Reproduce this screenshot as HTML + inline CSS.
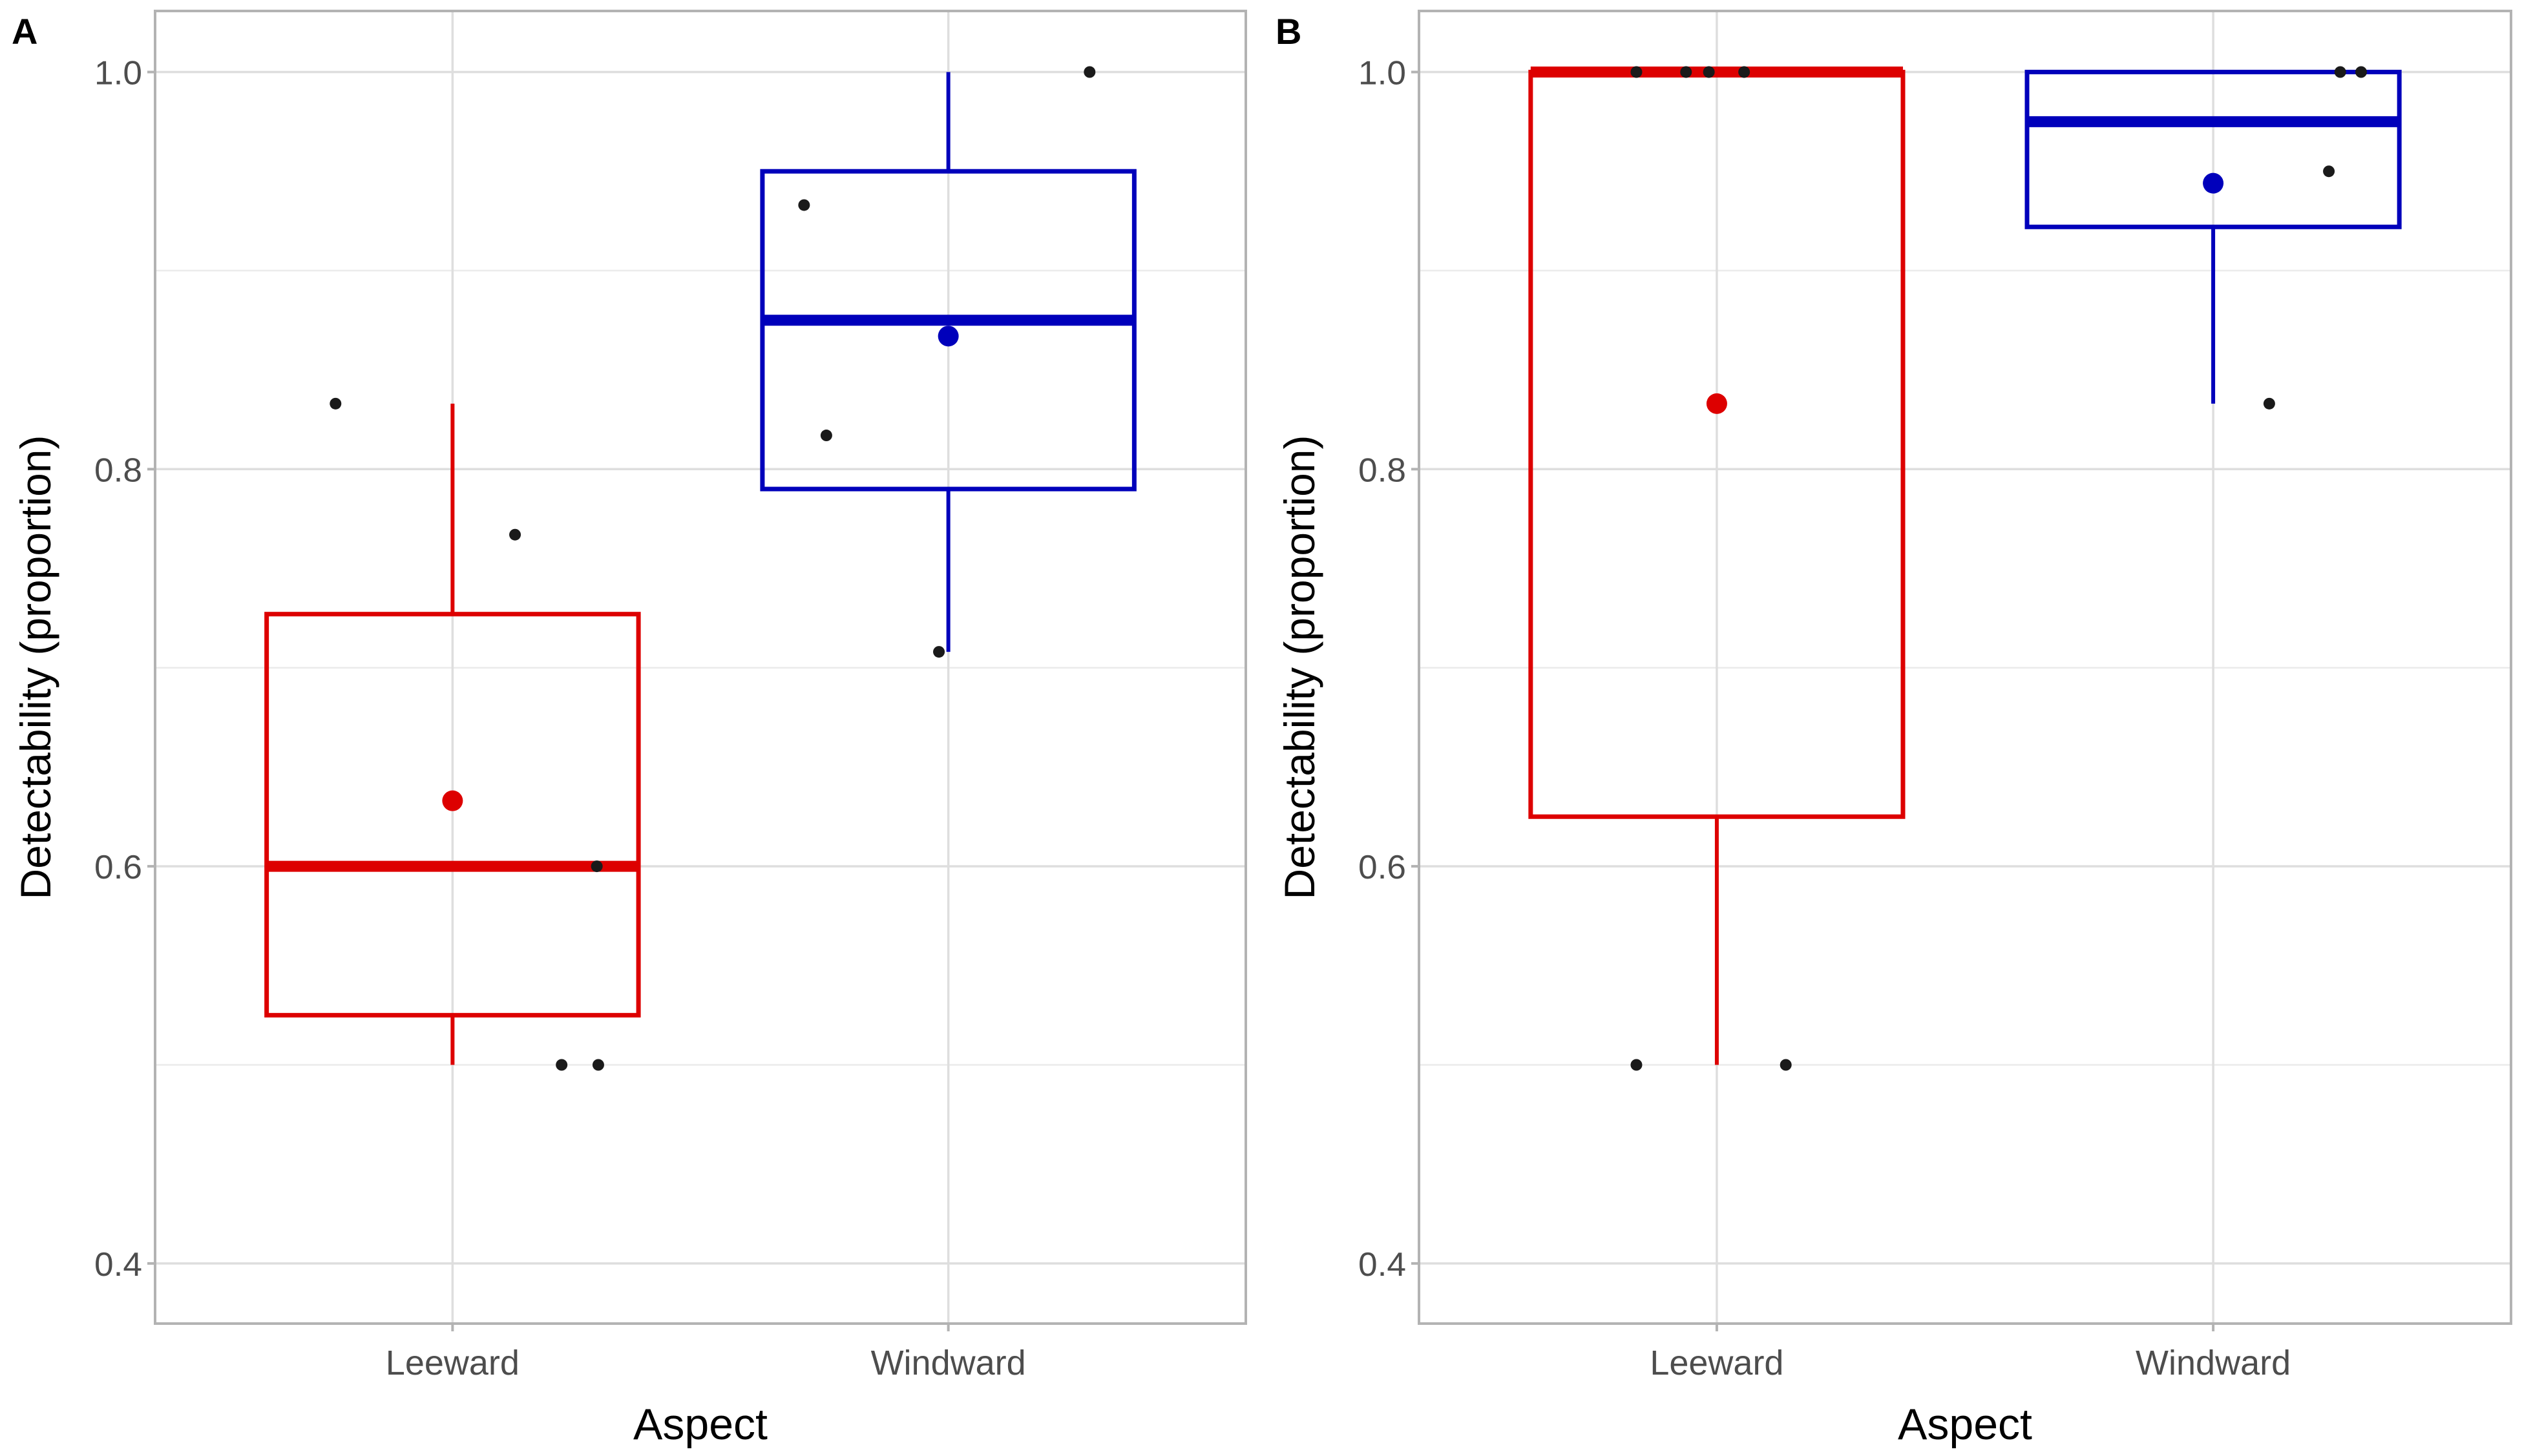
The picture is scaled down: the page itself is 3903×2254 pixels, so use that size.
<!DOCTYPE html>
<html><head><meta charset="utf-8">
<style>html,body{margin:0;padding:0;background:#fff}svg{display:block}</style>
</head><body>
<svg id="chart" width="3903" height="2254" viewBox="0 0 3903 2254" xmlns="http://www.w3.org/2000/svg" font-family="Liberation Sans, sans-serif"></svg>
<script>
const categories = ["Leeward", "Windward"];
const yTicks = [0.4, 0.6, 0.8, 1.0];
const yTickLabels = ["0.4", "0.6", "0.8", "1.0"];
const colors = ["#dd0000", "#0000bb"];
// panel A stats [Leeward, Windward]
const aLower = [0.5, 0.708];
const aQ1 = [0.525, 0.79];
const aMedian = [0.6, 0.875];
const aQ3 = [0.727, 0.95];
const aUpper = [0.833, 1.0];
const aMean = [0.633, 0.867];
const aPtsCat = [0,0,0,0,0,1,1,1,1];
const aPtsJit = [-0.236,0.126,0.291,0.22,0.294,0.285,-0.291,-0.246,-0.019];
const aPtsVal = [0.833,0.767,0.6,0.5,0.5,1.0,0.933,0.817,0.708];
// panel B stats
const bLower = [0.5, 0.833];
const bQ1 = [0.625, 0.922];
const bMedian = [1.0, 0.975];
const bQ3 = [1.0, 1.0];
const bUpper = [1.0, 1.0];
const bMean = [0.833, 0.944];
const bPtsCat = [0,0,0,0,0,0,1,1,1,1];
const bPtsJit = [-0.162,-0.062,-0.016,0.055,-0.162,0.139,0.256,0.298,0.233,0.113];
const bPtsVal = [1.0,1.0,1.0,1.0,0.5,0.5,1.0,1.0,0.95,0.833];

const NS = "http://www.w3.org/2000/svg";
const svg = document.getElementById("chart");
function mk(tag, attrs, parent){const e=document.createElementNS(NS,tag);for(const k in attrs)e.setAttribute(k,attrs[k]);(parent||svg).appendChild(e);return e;}

function panel(label, left, right, st, pts, gname){
  const top=17, bottom=2049;
  const g = mk("g",{});
  
  
  const y = v => 111.5 + (1.0 - v) * 3074;
  const step = (right-left)/2.2;
  const x = i => left + step*(0.6+i);
  [0.5,0.7,0.9].forEach(v=>{const l=mk("line",{x1:left,x2:right,y1:y(v),y2:y(v),stroke:"#ebebeb","stroke-width":2.5},g);
    
    });
  yTicks.forEach((v,i)=>{const l=mk("line",{x1:left,x2:right,y1:y(v),y2:y(v),stroke:"#dedede","stroke-width":3.5},g);
    
    
    mk("line",{x1:left-12,x2:left,y1:y(v),y2:y(v),stroke:"#b3b3b3","stroke-width":4},g);
    const t=mk("text",{x:left-20,y:y(v)+19,"text-anchor":"end","font-size":52,fill:"#4d4d4d",textLength:74,lengthAdjust:"spacingAndGlyphs"},g);
    t.textContent=yTickLabels[i];
    
    });
  categories.forEach((c,i)=>{
    const l=mk("line",{x1:x(i),x2:x(i),y1:top,y2:bottom,stroke:"#dedede","stroke-width":3.5},g);
    
    
    mk("line",{x1:x(i),x2:x(i),y1:bottom,y2:bottom+12,stroke:"#b3b3b3","stroke-width":4},g);
    const t=mk("text",{x:x(i),y:2128,"text-anchor":"middle","font-size":54,fill:"#4d4d4d"},g);
    t.textContent=c;
    
    
  });
  const bw = step*0.75;
  categories.forEach((c,i)=>{
    const col=colors[i];
    const bg=mk("g",{},g);
    
    
    mk("line",{x1:x(i),x2:x(i),y1:y(st.upper[i]),y2:y(st.q3[i]),stroke:col,"stroke-width":6},bg);
    mk("line",{x1:x(i),x2:x(i),y1:y(st.q1[i]),y2:y(st.lower[i]),stroke:col,"stroke-width":6},bg);
    mk("rect",{x:x(i)-bw/2,y:y(st.q3[i]),width:bw,height:y(st.q1[i])-y(st.q3[i]),fill:"none",stroke:col,"stroke-width":7},bg);
    const m=mk("line",{x1:x(i)-bw/2,x2:x(i)+bw/2,y1:y(st.median[i]),y2:y(st.median[i]),stroke:col,"stroke-width":17},bg);
    
    
  });
  pts.cat.forEach((ci,k)=>{
    const p=mk("circle",{cx:x(ci)+pts.jit[k]*step,cy:y(pts.val[k]),r:9,fill:"#1a1a1a"},g);
    
    
  });
  categories.forEach((c,i)=>{
    const p=mk("circle",{cx:x(i),cy:y(st.mean[i]),r:16,fill:colors[i]},g);
    
    
  });
  const b=mk("rect",{x:left,y:top,width:right-left,height:bottom-top,fill:"none",stroke:"#b3b3b3","stroke-width":4},g);
  
  
  const xt=mk("text",{x:(left+right)/2,y:2228,"text-anchor":"middle","font-size":68,fill:"#000"},g);
  xt.textContent="Aspect";
  
  
  const yt=mk("text",{x:0,y:0,"text-anchor":"middle","font-size":66,fill:"#000",transform:`translate(${left-162},${(top+bottom)/2}) rotate(-90)`},g);
  yt.textContent="Detectability (proportion)";
  
  
  const pl=mk("text",{x:left-222,y:68,"font-size":56,"font-weight":"bold",fill:"#000"},g);
  pl.textContent=label;
  
  
}
panel("A",240,1928,{lower:aLower,q1:aQ1,median:aMedian,q3:aQ3,upper:aUpper,mean:aMean},{cat:aPtsCat,jit:aPtsJit,val:aPtsVal},"panel-a");
panel("B",2196,3886,{lower:bLower,q1:bQ1,median:bMedian,q3:bQ3,upper:bUpper,mean:bMean},{cat:bPtsCat,jit:bPtsJit,val:bPtsVal},"panel-b");
</script>
</body></html>
